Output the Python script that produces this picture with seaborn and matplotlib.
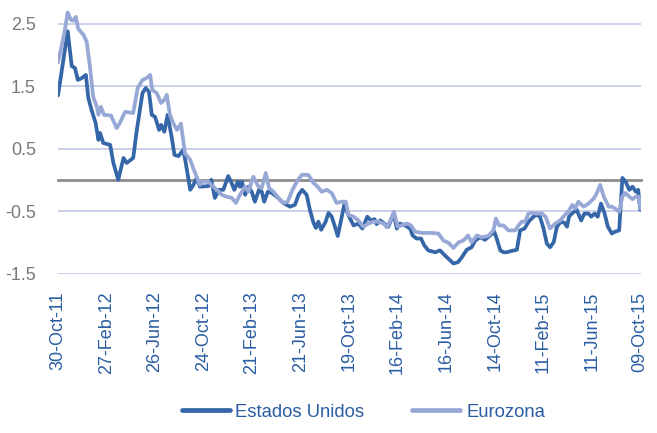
import matplotlib
matplotlib.use("Agg")
import numpy as np
import pandas as pd
import seaborn as sns
import matplotlib.pyplot as plt
from matplotlib.lines import Line2D

# ---------------- data ----------------
start_date = "2011-10-30"

us_days = [0, 24, 34, 42, 49, 59, 69, 75, 83, 93, 100, 104, 112, 129, 137, 149, 162, 170, 186, 195,
           209, 217, 225, 232, 240, 250, 255, 263, 271, 281, 288, 298, 310, 316, 327, 335, 343, 351,
           372, 379, 388, 398, 409, 421, 428, 436, 445, 450, 455, 463, 471, 479, 487, 497, 504, 510,
           519, 529, 541, 557, 574, 586, 595, 604, 615, 623, 632, 638, 644, 651, 662, 669, 677, 685,
           692, 702, 708, 720, 731, 743, 753, 765, 774, 783, 788, 797, 809, 817, 830, 838, 846, 858,
           871, 877, 887, 898, 906, 916, 933, 945, 957, 970, 978, 989, 999, 1011, 1023, 1032, 1044,
           1056, 1069, 1079, 1085, 1094, 1102, 1110, 1121, 1135, 1143, 1154, 1164, 1176, 1184, 1192,
           1201, 1209, 1217, 1226, 1234, 1244, 1253, 1259, 1264, 1271, 1283, 1294, 1302, 1312, 1319,
           1327, 1335, 1343, 1352, 1360, 1370, 1378, 1388, 1396, 1404, 1413, 1421, 1429, 1435, 1440]
us_vals = [1.35, 2.38, 1.82, 1.79, 1.60, 1.63, 1.68, 1.31, 1.12, 0.91, 0.64, 0.75, 0.59, 0.56, 0.27, 0.00,
           0.35, 0.27, 0.35, 0.80, 1.39, 1.47, 1.41, 1.04, 1.01, 0.80, 0.88, 0.77, 1.04, 0.69, 0.40, 0.38,
           0.48, 0.27, -0.16, -0.08, 0.03, -0.11,
           -0.10, 0.00, -0.29, -0.16, -0.16, 0.06, -0.03, -0.16, -0.03, -0.11, -0.03, -0.24, -0.11, -0.19,
           -0.35, -0.16, -0.19, -0.35, -0.19, -0.21, -0.27, -0.37, -0.43, -0.40, -0.24, -0.16, -0.24, -0.48,
           -0.69, -0.77, -0.67, -0.80, -0.67, -0.53, -0.59, -0.75, -0.90, -0.59, -0.40,
           -0.59, -0.73, -0.70, -0.78, -0.59, -0.65, -0.63, -0.71, -0.65, -0.71, -0.75, -0.54, -0.78, -0.70,
           -0.73, -0.78, -0.89, -0.94, -0.94, -1.05, -1.13, -1.16, -1.13, -1.21, -1.29, -1.34, -1.32, -1.24,
           -1.12, -1.08, -0.97, -0.92, -0.96, -0.89, -0.83, -0.94, -1.13, -1.16, -1.16, -1.14, -1.12, -0.81,
           -0.78, -0.67, -0.59, -0.56, -0.59, -0.78, -1.02, -1.08, -1.00, -0.75, -0.67, -0.69, -0.75, -0.59,
           -0.54, -0.48, -0.65, -0.54, -0.54, -0.59, -0.54, -0.59, -0.38, -0.54, -0.75, -0.86, -0.83, -0.81,
           0.03, -0.03, -0.16, -0.11, -0.19, -0.16, -0.48]

ez_days = [0, 7, 16, 24, 32, 38, 44, 50, 63, 71, 79, 87, 96, 100, 106, 114, 131, 145, 153, 166, 186,
           197, 209, 219, 228, 233, 244, 255, 263, 269, 277, 285, 294, 304, 314, 327, 339, 351,
           356, 372, 384, 393, 405, 417, 430, 440, 450, 463, 471, 483, 496, 504, 514, 522, 533, 545,
           557, 568, 580, 591, 603, 619, 632, 642, 652, 665, 677, 689, 702, 712,
           718, 731, 743, 755, 768, 780, 792, 805, 813, 821, 831, 840, 850, 863, 873, 883, 900, 925,
           941, 953, 966, 978, 991, 1003, 1014, 1023, 1036, 1048, 1064, 1077, 1083, 1091, 1102, 1114,
           1131, 1139, 1147, 1155, 1164, 1172, 1184, 1197, 1206, 1217, 1230, 1242, 1254, 1262, 1272,
           1279, 1287, 1300, 1312, 1325, 1333, 1341, 1350, 1362, 1370, 1378, 1388, 1396, 1403, 1413,
           1421, 1429, 1437, 1440]
ez_vals = [1.88, 2.08, 2.36, 2.68, 2.56, 2.55, 2.61, 2.42, 2.32, 2.21, 1.81, 1.33, 1.17, 1.04, 1.17, 1.04,
           1.03, 0.83, 0.91, 1.09, 1.07, 1.47, 1.60, 1.63, 1.68, 1.44, 1.39, 1.23, 1.28, 1.36, 1.04, 0.91,
           0.80, 0.90, 0.43, 0.32, 0.11, -0.08,
           -0.03, -0.03, -0.11, -0.16, -0.24, -0.27, -0.29, -0.37, -0.24, -0.11, -0.19, 0.05, -0.11, -0.13,
           0.11, -0.13, -0.19, -0.29, -0.37, -0.35, -0.16, -0.03, 0.08, 0.08, -0.05, -0.11, -0.19, -0.16,
           -0.21, -0.37, -0.35, -0.35,
           -0.56, -0.59, -0.65, -0.75, -0.70, -0.67, -0.67, -0.70, -0.76, -0.67, -0.51, -0.75, -0.73, -0.70,
           -0.73, -0.83, -0.85, -0.85, -0.86, -0.97, -1.01, -1.09, -1.00, -0.97, -0.89, -1.00, -0.89, -0.92,
           -0.90, -0.81, -0.62, -0.73, -0.73, -0.81, -0.81, -0.73, -0.67, -0.67, -0.54, -0.53, -0.54, -0.54,
           -0.59, -0.78, -0.70, -0.65, -0.56, -0.51, -0.40, -0.46, -0.35, -0.43, -0.38, -0.30, -0.21, -0.08,
           -0.27, -0.43, -0.43, -0.46, -0.51, -0.27, -0.21, -0.27, -0.31, -0.27, -0.27, -0.46]

series_names = ["Estados Unidos", "Eurozona"]
tick_labels = ["30-Oct-11", "27-Feb-12", "26-Jun-12", "24-Oct-12", "21-Feb-13", "21-Jun-13",
               "19-Oct-13", "16-Feb-14", "16-Jun-14", "14-Oct-14", "11-Feb-15", "11-Jun-15", "09-Oct-15"]
y_ticks = [2.5, 1.5, 0.5, -0.5, -1.5]

# ---------------- build frame ----------------
t0 = pd.Timestamp(start_date)
df = pd.concat([
    pd.DataFrame({"Fecha": t0 + pd.to_timedelta(us_days, unit="D"), "Valor": us_vals, "Serie": series_names[0]}),
    pd.DataFrame({"Fecha": t0 + pd.to_timedelta(ez_days, unit="D"), "Valor": ez_vals, "Serie": series_names[1]}),
], ignore_index=True)

dark = "#3566A8"
light = "#98A8D6"
label_blue = "#2A5DA3"
palette = {series_names[0]: dark, series_names[1]: light}

sns.set_style("white")
plt.rcParams["font.family"] = ["Liberation Sans", "DejaVu Sans"]

fig = plt.figure(figsize=(6.57, 4.33), dpi=100)
ax = fig.add_axes([58 / 657, (433 - 273.5) / 433, (641 - 58) / 657, 273.5 / 433])

sns.lineplot(data=df, x="Fecha", y="Valor", hue="Serie", hue_order=series_names,
             palette=palette, linewidth=2.7, ax=ax, legend=False, estimator=None, sort=False)

tick_dates = pd.to_datetime(tick_labels, format="%d-%b-%y")
ax.set_xlim(tick_dates[0], tick_dates[-1] + pd.Timedelta(days=2))
ax.set_ylim(-1.5, 2.88)

# horizontal gridlines only at labelled ticks
ax.set_yticks(y_ticks)
ax.set_yticklabels([f"{v:g}" for v in y_ticks])
ax.yaxis.grid(True, color="#C5CDE6", linewidth=1.3)
ax.xaxis.grid(False)
ax.set_axisbelow(True)
ax.tick_params(axis="y", length=0, pad=16, labelsize=13, labelcolor="#7A7A7A")

for s in ["top", "right", "left"]:
    ax.spines[s].set_visible(False)
ax.spines["bottom"].set_position(("data", 0))
ax.spines["bottom"].set_color("#8C8C8C")
ax.spines["bottom"].set_linewidth(2.0)
ax.spines["bottom"].set_zorder(1.5)

ax.set_xticks(tick_dates)
ax.tick_params(axis="x", direction="out", length=4.5, width=1.6, color="#8C8C8C",
               labelbottom=False)
ax.set_xlabel("")
ax.set_ylabel("")

# date labels at the bottom of the plot area
sec = ax.secondary_xaxis(0)
sec.set_xticks(tick_dates)
sec.set_xticklabels(tick_labels, rotation=90)
sec.tick_params(length=0, pad=13, labelsize=13, labelcolor=label_blue)
sec.spines["bottom"].set_visible(False)

handles = [Line2D([], [], color=dark, linewidth=3.4),
           Line2D([], [], color=light, linewidth=3.4)]
leg = fig.legend(handles, series_names, loc="center", bbox_to_anchor=(0.553, 0.048), ncol=2,
                 frameon=False, fontsize=13.3, handlelength=2.6, handletextpad=0.3,
                 columnspacing=2.6)
for t in leg.get_texts():
    t.set_color(label_blue)

fig.savefig("out.png", dpi=100)
